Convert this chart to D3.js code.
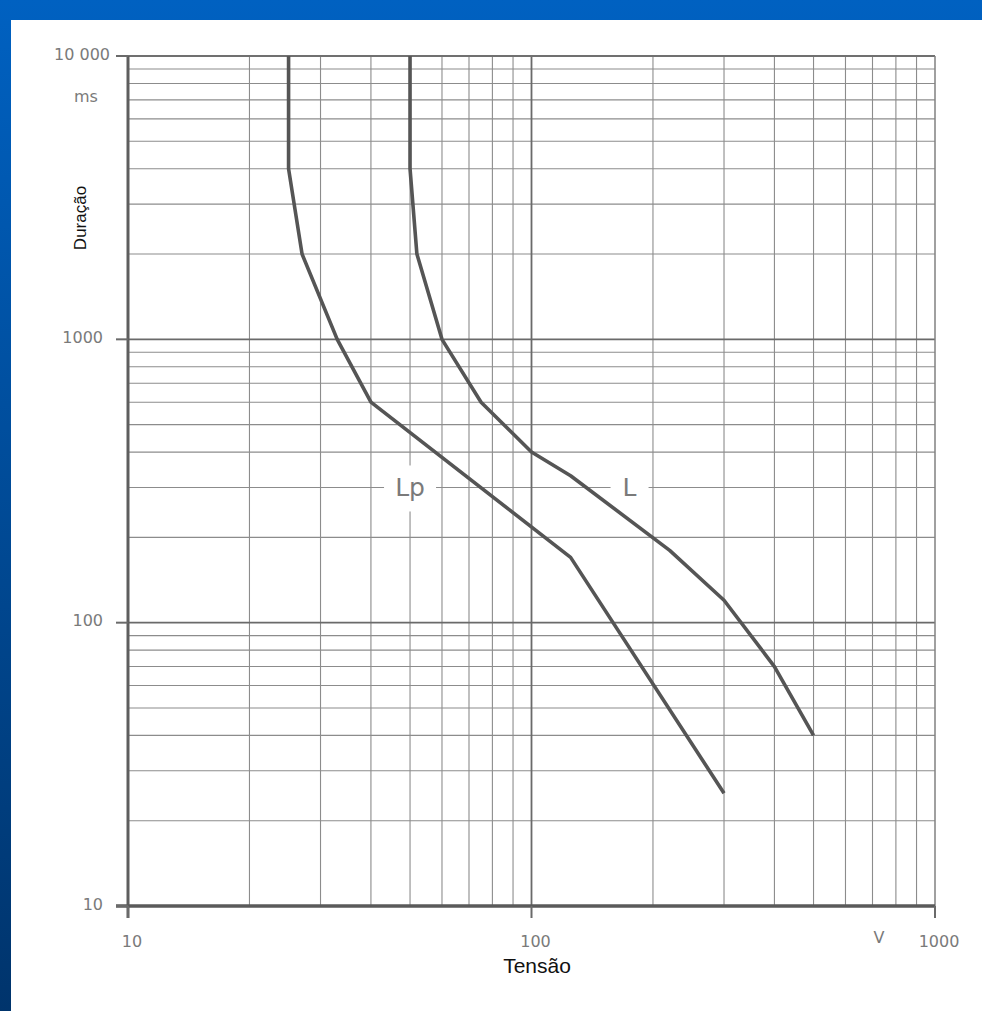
<!DOCTYPE html>
<html>
<head>
<meta charset="utf-8">
<script src="https://cdn.jsdelivr.net/npm/d3@7"></script>
<style>
  html, body { margin: 0; padding: 0; background: #fff; }
</style>
</head>
<body>
<div id="chart"></div>
<script>
// curve Lp (wet conditions) and L (dry conditions)
const lpVolts = [25, 25, 27, 33, 40, 125, 300]
const lpMs = [10000, 4000, 2000, 1000, 600, 170, 25]
const lVolts = [50, 50, 52, 60, 75, 100, 125, 220, 300, 400, 500]
const lMs = [10000, 4000, 2000, 1000, 600, 400, 330, 180, 120, 70, 40]

const xTickValues = [10, 100, 1000]
const xTickLabels = ['10', '100', '1000']
const yTickValues = [10000, 1000, 100, 10]
const yTickLabels = ['10 000', '1000', '100', '10']

const width = 982
const height = 1011
const tickFont = 'DejaVu Sans, Verdana, sans-serif'
const titleFont = 'Liberation Sans, Arial, sans-serif'

const svg = d3.select('#chart')
    .append('svg')
    .attr('width', width)
    .attr('height', height)

// blue slide frame
const defs = svg.append('defs')
const grad = defs.append('linearGradient')
    .attr('id', 'frame')
    .attr('x1', 0).attr('y1', 0).attr('x2', 0).attr('y2', 1)
grad.append('stop').attr('offset', '0%').attr('stop-color', '#0061c1')
grad.append('stop').attr('offset', '100%').attr('stop-color', '#00346c')

svg.append('rect')
    .attr('width', width).attr('height', height)
    .attr('fill', 'url(#frame)')
svg.append('rect')
    .attr('x', 11).attr('y', 20)
    .attr('width', width - 11).attr('height', height - 20)
    .attr('fill', '#fff')

const xScale = d3.scaleLog().domain([10, 1000]).range([128, 935])
const yScale = d3.scaleLog().domain([10, 10000]).range([906, 56])

const [x0, x1] = xScale.range()
const [y0, y1] = yScale.range()

// grid
const xMinor = xScale.ticks().filter(v => xTickValues.indexOf(v) < 0)
const yMinor = yScale.ticks().filter(v => yTickValues.indexOf(v) < 0)

const grid = svg.append('g')
grid.selectAll('.vminor')
    .data(xMinor)
    .enter().append('line')
    .attr('x1', d => xScale(d)).attr('x2', d => xScale(d))
    .attr('y1', y1).attr('y2', y0)
    .style('stroke', '#8c8c8c')
    .style('stroke-width', 1.1)
grid.selectAll('.hminor')
    .data(yMinor)
    .enter().append('line')
    .attr('y1', d => yScale(d)).attr('y2', d => yScale(d))
    .attr('x1', x0).attr('x2', x1)
    .style('stroke', '#8c8c8c')
    .style('stroke-width', 1.1)

// major lines
grid.append('line')
    .attr('x1', xScale(100)).attr('x2', xScale(100))
    .attr('y1', y1).attr('y2', y0)
    .style('stroke', '#6a6a6a').style('stroke-width', 1.8)
grid.selectAll('.hmajor')
    .data([1000, 100])
    .enter().append('line')
    .attr('y1', d => yScale(d)).attr('y2', d => yScale(d))
    .attr('x1', x0).attr('x2', x1)
    .style('stroke', '#6a6a6a').style('stroke-width', 1.8)

// frame lines
grid.append('line')
    .attr('x1', 116).attr('x2', x1).attr('y1', y1).attr('y2', y1)
    .style('stroke', '#707070').style('stroke-width', 2.2)
grid.append('line')
    .attr('x1', x1).attr('x2', x1).attr('y1', y1).attr('y2', y0)
    .style('stroke', '#808080').style('stroke-width', 1.5)
grid.append('line')
    .attr('x1', x0).attr('x2', x0).attr('y1', y1).attr('y2', y0 + 12)
    .style('stroke', '#5e5e5e').style('stroke-width', 3)
grid.append('line')
    .attr('x1', 116).attr('x2', x1).attr('y1', y0).attr('y2', y0)
    .style('stroke', '#5a5a5a').style('stroke-width', 3.5)

// tick marks
grid.selectAll('.ytick')
    .data(yTickValues)
    .enter().append('line')
    .attr('x1', 116).attr('x2', x0)
    .attr('y1', d => yScale(d)).attr('y2', d => yScale(d))
    .style('stroke', '#6a6a6a').style('stroke-width', 2)
grid.selectAll('.xtick')
    .data(xTickValues)
    .enter().append('line')
    .attr('x1', d => xScale(d)).attr('x2', d => xScale(d))
    .attr('y1', y0).attr('y2', y0 + 12)
    .style('stroke', '#6a6a6a').style('stroke-width', 2)

// tick labels
svg.selectAll('.ylab')
    .data(yTickValues)
    .enter().append('text')
    .attr('x', d => d === 10000 ? 110 : 103)
    .attr('y', d => yScale(d) - 2)
    .attr('text-anchor', 'end')
    .attr('dominant-baseline', 'central')
    .style('font-family', tickFont)
    .style('font-size', '16px')
    .style('fill', '#7a7a7a')
    .text((d, i) => yTickLabels[i])

svg.append('text')
    .attr('x', 86).attr('y', 96)
    .attr('text-anchor', 'middle')
    .attr('dominant-baseline', 'central')
    .style('font-family', tickFont)
    .style('font-size', '16px')
    .style('fill', '#7a7a7a')
    .text('ms')

svg.selectAll('.xlab')
    .data(xTickValues)
    .enter().append('text')
    .attr('x', d => xScale(d) + 4)
    .attr('y', 941)
    .attr('text-anchor', 'middle')
    .attr('dominant-baseline', 'central')
    .style('font-family', tickFont)
    .style('font-size', '16px')
    .style('fill', '#7a7a7a')
    .text((d, i) => xTickLabels[i])

svg.append('text')
    .attr('x', 879).attr('y', 937)
    .attr('text-anchor', 'middle')
    .attr('dominant-baseline', 'central')
    .style('font-family', tickFont)
    .style('font-size', '16px')
    .style('fill', '#7a7a7a')
    .text('V')

// axis titles
svg.append('text')
    .attr('x', 537).attr('y', 973)
    .attr('text-anchor', 'middle')
    .style('font-family', titleFont)
    .style('font-size', '21px')
    .style('fill', '#111')
    .text('Tensão')

svg.append('text')
    .attr('text-anchor', 'middle')
    .attr('transform', 'translate(86,218)rotate(-90)')
    .style('font-family', titleFont)
    .style('font-size', '17px')
    .style('fill', '#111')
    .text('Duração')

// curve labels sitting on the 300 ms line (under the curves)
const curveLabels = [
    {text: 'Lp', v: 50, w: 52},
    {text: 'L', v: 175, w: 38}
]
const lab = svg.selectAll('.clab')
    .data(curveLabels)
    .enter().append('g')
    .attr('transform', d => `translate(${xScale(d.v)},${yScale(300)})`)
lab.append('rect')
    .attr('x', d => -d.w / 2).attr('y', -22)
    .attr('width', d => d.w).attr('height', 46)
    .attr('fill', '#fff')
lab.append('text')
    .attr('text-anchor', 'middle')
    .attr('dominant-baseline', 'central')
    .style('font-family', tickFont)
    .style('font-size', '25px')
    .style('fill', '#7a7a7a')
    .text(d => d.text)

// curves
const line = d3.line()
    .x(d => xScale(d.v))
    .y(d => yScale(d.t))

const lpData = lpVolts.map((v, i) => ({v: v, t: lpMs[i]}))
const lData = lVolts.map((v, i) => ({v: v, t: lMs[i]}))

svg.selectAll('.curve')
    .data([lpData, lData])
    .enter().append('path')
    .attr('d', line)
    .style('fill', 'none')
    .style('stroke', '#555')
    .style('stroke-width', 3.6)
    .style('stroke-linejoin', 'round')
</script>
</body>
</html>
